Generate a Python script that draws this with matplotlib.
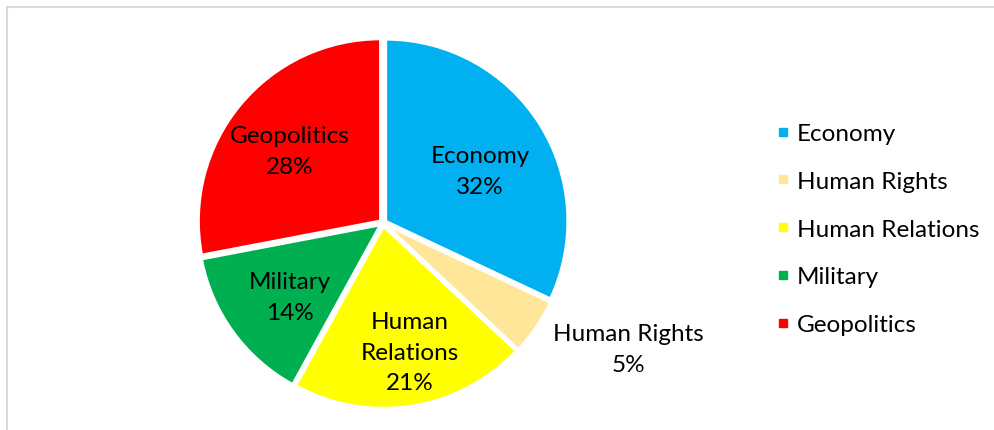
import matplotlib.pyplot as plt
import numpy as np
from matplotlib.lines import Line2D
from matplotlib.patches import Rectangle

# Topic shares (percent), clockwise from 12 o'clock
topics = ["Economy", "Human Rights", "Human Relations", "Military", "Geopolitics"]
shares = [32, 5, 21, 14, 28]
slice_labels = ["Economy", "Human Rights", "Human\nRelations", "Military", "Geopolitics"]
colors = ["#00B0F0", "#FFE699", "#FFFF00", "#00B050", "#FF0000"]

# where each data label sits, in pie-radius units from the centre
label_xy = [(0.533, 0.286), (1.346, -0.692), (0.148, -0.709), (-0.511, -0.407), (-0.511, 0.396)]

plt.rcParams['font.family'] = ['Lato', 'DejaVu Sans']
FS = 17.5

W, H = 995, 431
fig = plt.figure(figsize=(W / 100, H / 100), dpi=100)

# light grey chart frame (runs off right and bottom edges)
fig.patches.append(Rectangle((7 / W, -0.1), 1.0, 1 - 8 / H + 0.1, transform=fig.transFigure,
                             fill=False, edgecolor="#D9D9D9", linewidth=1.5))

# pie axes: centre at (383, 224) px, radius ~182 px
R = 182
cx, cy = 383, 224
half = 200
ax = fig.add_axes([(cx - half) / W, (H - cy - half) / H, 2 * half / W, 2 * half / H])

wedges, _ = ax.pie(shares, colors=colors, startangle=90, counterclock=False,
                   explode=[0.018] * len(shares),
                   wedgeprops=dict(edgecolor="white", linewidth=2))
ax.set_xlim(-half / R, half / R)
ax.set_ylim(-half / R, half / R)
ax.set_aspect("equal")
ax.axis("off")

for (x, y), lab, s in zip(label_xy, slice_labels, shares):
    ax.text(x, y, f"{lab}\n{s}%", ha="center", va="center", fontsize=FS,
            linespacing=1.55, color="black")

handles = [Line2D([], [], marker="s", linestyle="none", markersize=6,
                  markerfacecolor=c, markeredgecolor=c) for c in colors]
fig.legend(handles, topics, loc="upper left", bbox_to_anchor=(764 / W, 1 - 112 / H),
           frameon=False, fontsize=FS, labelspacing=1.1, handlelength=0.6,
           handletextpad=0.25, borderpad=0)

fig.savefig("out.png", dpi=100)
